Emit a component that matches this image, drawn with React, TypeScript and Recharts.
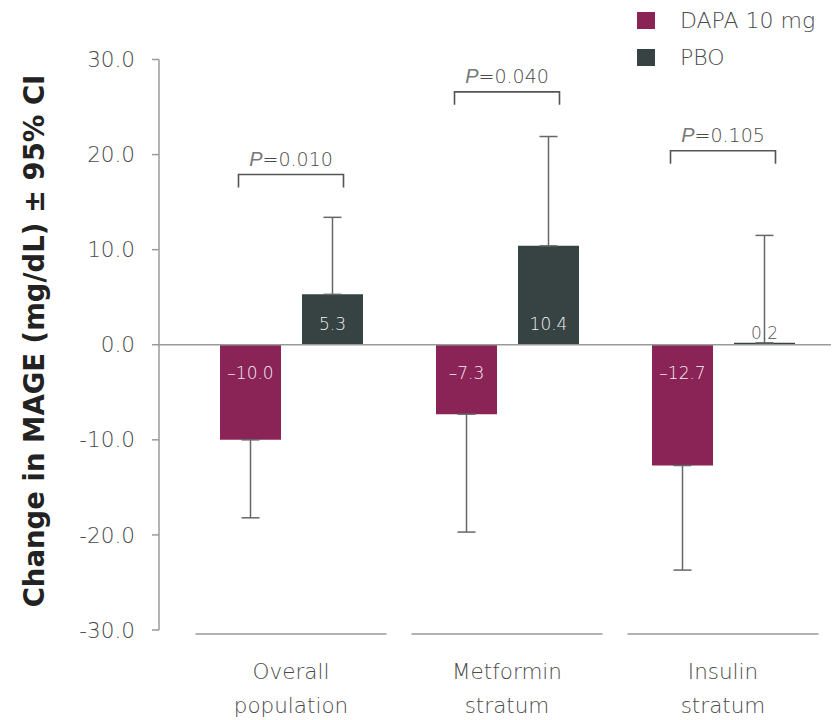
import React from 'react';
import {
  ComposedChart,
  Bar,
  XAxis,
  YAxis,
  ReferenceLine,
  ErrorBar,
  Scatter,
  LabelList,
  Legend,
} from 'recharts';

// Study groups on the x axis (two-line labels)
const categories = ['Overall population', 'Metformin stratum', 'Insulin stratum'];
const categoryLines = [
  ['Overall', 'population'],
  ['Metformin', 'stratum'],
  ['Insulin', 'stratum'],
];

// Mean change in MAGE (mg/dL) and the outer end of the 95% CI
const dapaValues = [-10.0, -7.3, -12.7];
const dapaCiLower = [-18.2, -19.7, -23.7];
const pboValues = [5.3, 10.4, 0.2];
const pboCiUpper = [13.4, 21.9, 11.5];

// Between-group comparison brackets
const pValues = ['0.010', '0.040', '0.105'];
const bracketLevels = [17.9, 26.6, 20.4];

const yTicks = [-30, -20, -10, 0, 10, 20, 30];

const seriesNames = ['DAPA 10 mg', 'PBO'];
const seriesColors = ['#8a2457', '#374343'];

const FONT = '"DejaVu Sans", "Liberation Sans", Arial, sans-serif';
const LIGHT = 300;
const TEXT_GREY = '#4a4a4a';

const rows = categories.map((category, i) => ({
  category,
  dapa: dapaValues[i],
  dapaErr: [dapaValues[i] - dapaCiLower[i], 0],
  pbo: pboValues[i],
  pboErr: [0, pboCiUpper[i] - pboValues[i]],
  bracket: bracketLevels[i],
  p: pValues[i],
}));

const formatValue = (v: number) => (v < 0 ? '\u2013' + Math.abs(v).toFixed(1) : v.toFixed(1));

// Value printed inside the bar, next to the zero line
const ValueLabel = (props: any) => {
  const { x, y, width, height, value } = props;
  const v = Number(value);
  const top = Math.min(y, y + height);
  const bottom = Math.max(y, y + height);
  const cx = x + width / 2;
  const tiny = bottom - top < 30;
  let cy: number;
  let fill = '#ffffff';
  let opacity = 0.95;
  if (v >= 0) {
    cy = tiny ? bottom - 11.5 : bottom - 21;
    if (tiny) {
      fill = '#555555';
      opacity = 1;
    }
  } else {
    cy = top + 28;
  }
  return (
    <text
      x={cx}
      y={cy}
      textAnchor="middle"
      dominantBaseline="central"
      fontFamily={FONT}
      fontWeight={LIGHT}
      fontSize={17}
      fill={fill}
      fillOpacity={opacity}
    >
      {formatValue(v)}
    </text>
  );
};

// Comparison bracket with the p-value above it
const BracketShape = (props: any) => {
  const { cx, cy, payload } = props;
  if (cx == null || cy == null) return null;
  const half = 52.5;
  const leg = 13;
  return (
    <g>
      <path
        d={`M${cx - half},${cy + leg} V${cy} H${cx + half} V${cy + leg}`}
        fill="none"
        stroke="#555555"
        strokeWidth={1.6}
      />
      <text
        x={cx}
        y={cy - 16}
        textAnchor="middle"
        dominantBaseline="central"
        fontFamily={FONT}
        fontWeight={LIGHT}
        fontSize={19}
        fill={TEXT_GREY}
      >
        <tspan
          fontStyle="italic"
          fontWeight={400}
          fontFamily='"Liberation Sans", Arial, sans-serif'
          fontSize={20}
          fill="#777777"
        >
          P
        </tspan>
        <tspan>{'=' + payload.p}</tspan>
      </text>
    </g>
  );
};

// Category label with its own baseline segment
const CategoryTick = (props: any) => {
  const { x, y, index } = props;
  const lines = categoryLines[index] || [String(props.payload?.value ?? '')];
  return (
    <g>
      <line x1={x - 95.5} x2={x + 95.5} y1={y + 4} y2={y + 4} stroke="#9a9a9a" strokeWidth={1.5} />
      {lines.map((t: string, k: number) => (
        <text
          key={k}
          x={x}
          y={y + 49 + k * 34}
          textAnchor="middle"
          fontFamily={FONT}
          fontWeight={LIGHT}
          fontSize={21.5}
          fill={TEXT_GREY}
        >
          {t}
        </text>
      ))}
    </g>
  );
};

const LegendBox = () => (
  <div style={{ position: 'relative', width: 215, height: 80 }}>
    {seriesNames.map((name, i) => (
      <React.Fragment key={name}>
        <div
          style={{
            position: 'absolute',
            left: 17,
            top: 11.7 + i * 37,
            width: 18,
            height: 17.5,
            background: seriesColors[i],
          }}
        />
        <div
          style={{
            position: 'absolute',
            left: 60,
            top: 9.9 + i * 37,
            fontFamily: FONT,
            fontWeight: LIGHT,
            fontSize: 22,
            lineHeight: '22px',
            color: TEXT_GREY,
            whiteSpace: 'nowrap',
          }}
        >
          {name}
        </div>
      </React.Fragment>
    ))}
  </div>
);

const YTitle = () => (
  <text
    x={33.5}
    y={341}
    transform="rotate(-90, 33.5, 341)"
    textAnchor="middle"
    dominantBaseline="central"
    fontFamily={FONT}
    fontWeight="bold"
    fontSize={27.5}
    fill="#222222"
  >
    Change in MAGE (mg/dL) ± 95% CI
  </text>
);

export default function App() {
  return (
    <div style={{ position: 'fixed', left: 0, top: 0, width: 835, height: 720, background: '#ffffff' }}>
      <ComposedChart
        width={835}
        height={720}
        data={rows}
        margin={{ top: 59.5, right: 4, bottom: 0, left: 0 }}
        barGap={21}
      >
        <XAxis
          dataKey="category"
          type="category"
          axisLine={false}
          tickLine={false}
          tickSize={0}
          tickMargin={0}
          height={90}
          padding={{ left: 24, right: 0 }}
          interval={0}
          tick={<CategoryTick />}
        />
        <YAxis
          type="number"
          domain={[-30, 30]}
          ticks={yTicks}
          interval={0}
          width={159}
          tickSize={7}
          tickMargin={17}
          tickFormatter={(v: number) => v.toFixed(1)}
          axisLine={{ stroke: '#9a9a9a', strokeWidth: 1.5 }}
          tickLine={{ stroke: '#9a9a9a', strokeWidth: 1.5 }}
          tick={{ fontFamily: FONT, fontWeight: LIGHT, fontSize: 21.5, fill: TEXT_GREY }}
          label={{ content: () => <YTitle /> }}
        />
        <Legend
          layout="horizontal"
          verticalAlign="middle"
          align="center"
          wrapperStyle={{ top: 0, left: 620, width: 215, height: 80 }}
          content={() => <LegendBox />}
        />
        <Bar dataKey="dapa" name={seriesNames[0]} fill={seriesColors[0]} barSize={61} isAnimationActive={false}>
          <ErrorBar dataKey="dapaErr" direction="y" width={9} stroke="#666666" strokeWidth={1.5} />
          <LabelList dataKey="dapa" content={<ValueLabel />} />
        </Bar>
        <Bar dataKey="pbo" name={seriesNames[1]} fill={seriesColors[1]} barSize={61} isAnimationActive={false}>
          <ErrorBar dataKey="pboErr" direction="y" width={9} stroke="#666666" strokeWidth={1.5} />
          <LabelList dataKey="pbo" content={<ValueLabel />} />
        </Bar>
        <ReferenceLine y={0} stroke="#9a9a9a" strokeWidth={1.5} />
        <Scatter dataKey="bracket" isAnimationActive={false} shape={<BracketShape />} />
      </ComposedChart>
    </div>
  );
}
